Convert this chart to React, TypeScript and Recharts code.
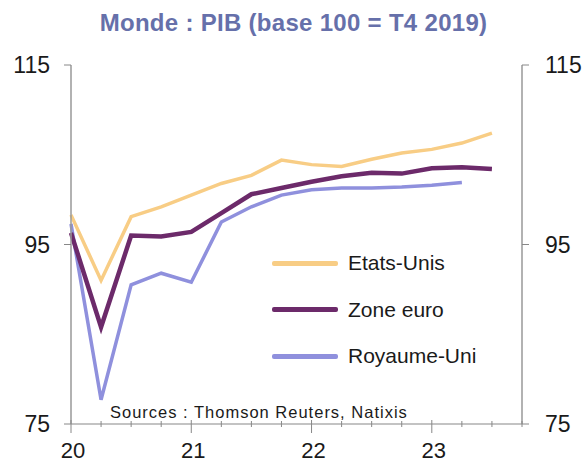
import { LineChart, Line, XAxis, YAxis } from 'recharts';

// quarterly GDP index, base 100 = T4 2019 (index 0 = T1 2020)
const quarters = [
  'T1 20', 'T2 20', 'T3 20', 'T4 20',
  'T1 21', 'T2 21', 'T3 21', 'T4 21',
  'T1 22', 'T2 22', 'T3 22', 'T4 22',
  'T1 23', 'T2 23', 'T3 23',
];
const etatsUnis = [98.3, 91.0, 98.1, 99.2, 100.5, 101.8, 102.7, 104.4, 103.9, 103.7, 104.5, 105.2, 105.6, 106.3, 107.4];
const zoneEuro = [96.3, 85.8, 96.0, 95.9, 96.4, 98.5, 100.6, 101.3, 102.0, 102.6, 103.0, 102.9, 103.5, 103.6, 103.4];
const royaumeUni = [97.3, 77.7, 90.5, 91.8, 90.8, 97.5, 99.2, 100.5, 101.1, 101.3, 101.3, 101.4, 101.6, 101.9, null];

const yearLabels = ['20', '21', '22', '23'];
const xTicks = [0, 1, 2, 3, 4, 5, 6, 7, 8, 9, 10, 11, 12, 13, 14, 15];
const yTicks = [75, 95, 115];

const SERIES = [
  { key: 'us', name: 'Etats-Unis', color: '#F8CD85', width: 3.5 },
  { key: 'euro', name: 'Zone euro', color: '#6C2A6A', width: 4.5 },
  { key: 'uk', name: 'Royaume-Uni', color: '#8F90DD', width: 3.5 },
];

const FONT = '"Liberation Sans", Arial, sans-serif';

const data = quarters.map((q, i) => ({
  idx: i,
  quarter: q,
  us: etatsUnis[i],
  euro: zoneEuro[i],
  uk: royaumeUni[i],
}));

const XTick = (props: any) => {
  const { x, y, payload } = props;
  const v = payload.value as number;
  const isYear = v % 4 === 0;
  return (
    <g>
      <line x1={x} x2={x} y1={y - (isYear ? 4 : 3)} y2={y + (isYear ? 9 : 3)} stroke="#888" strokeWidth={1} />
      {isYear && (
        <text x={x + 2} y={y + 34} textAnchor="middle" fontSize={22} fill="#1a1a1a" fontFamily={FONT}>
          {yearLabels[v / 4]}
        </text>
      )}
    </g>
  );
};

export default function App() {
  return (
    <div style={{ position: 'absolute', left: 0, top: 0, width: 587, height: 464, background: '#fff' }}>
      <div
        style={{
          position: 'absolute', left: 0, top: 9, width: 587, textAlign: 'center',
          fontFamily: FONT, fontWeight: 'bold', fontSize: 24, color: '#6670AA',
          letterSpacing: 0.3,
        }}
      >
        Monde : PIB (base 100 = T4 2019)
      </div>
      <LineChart width={587} height={464} data={data} margin={{ top: 65, right: 0, bottom: 0, left: 0 }}>
        <XAxis
          dataKey="idx"
          type="number"
          domain={[0, 15]}
          ticks={xTicks}
          interval={0}
          height={40}
          tickSize={0}
          tickMargin={0}
          tickLine={false}
          tick={<XTick />}
          axisLine={{ stroke: '#888', strokeWidth: 1.2 }}
        />
        <YAxis
          yAxisId="left"
          domain={[75, 115]}
          ticks={yTicks}
          width={71}
          tickSize={7}
          tickMargin={14}
          tick={{ fontSize: 23, fill: '#1a1a1a', fontFamily: FONT }}
          tickLine={{ stroke: '#888' }}
          axisLine={{ stroke: '#999', strokeWidth: 1.5 }}
          allowDataOverflow
        />
        <YAxis
          yAxisId="right"
          orientation="right"
          domain={[75, 115]}
          ticks={yTicks}
          width={65}
          tickSize={7}
          tickMargin={16}
          tick={{ fontSize: 23, fill: '#1a1a1a', fontFamily: FONT }}
          tickLine={{ stroke: '#888' }}
          axisLine={{ stroke: '#999', strokeWidth: 1.5 }}
          allowDataOverflow
        />
        {[SERIES[0], SERIES[2], SERIES[1]].map(s => (
          <Line
            key={s.key}
            yAxisId="left"
            type="linear"
            dataKey={s.key}
            name={s.name}
            stroke={s.color}
            strokeWidth={s.width}
            dot={false}
            activeDot={false}
            isAnimationActive={false}
            connectNulls={false}
          />
        ))}
      </LineChart>
      <div style={{ position: 'absolute', left: 272, top: 240, fontFamily: FONT }}>
        {SERIES.map(s => (
          <div key={s.key} style={{ display: 'flex', alignItems: 'center', height: 46.5 }}>
            <div style={{ width: 66, height: 5, background: s.color, borderRadius: 2 }} />
            <span style={{ marginLeft: 10, fontSize: 21, color: '#1a1a1a' }}>{s.name}</span>
          </div>
        ))}
      </div>
      <div
        style={{
          position: 'absolute', left: 110, top: 403, fontFamily: FONT, fontSize: 16.5,
          color: '#1a1a1a', whiteSpace: 'nowrap', letterSpacing: 1,
        }}
      >
        Sources : Thomson Reuters, Natixis
      </div>
    </div>
  );
}
